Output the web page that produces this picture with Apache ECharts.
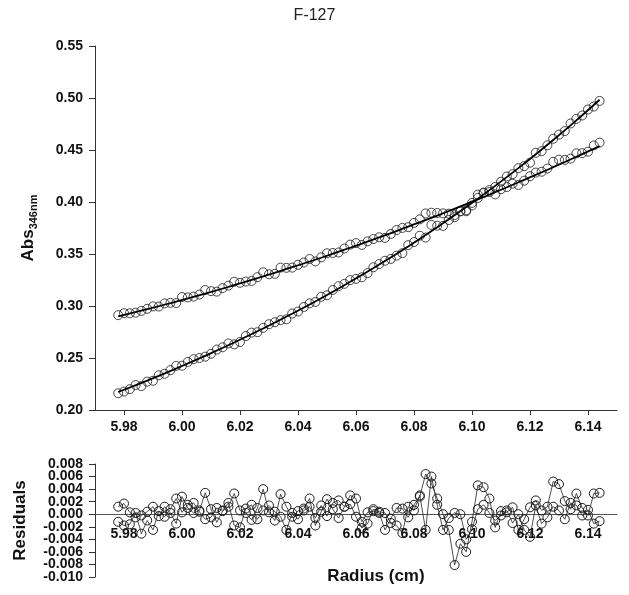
<!DOCTYPE html>
<html><head><meta charset="utf-8">
<script src="https://cdn.jsdelivr.net/npm/echarts@6/dist/echarts.min.js"></script>
<style>html,body{margin:0;padding:0;background:#fff}#c{width:629px;height:595px}</style>
</head><body><div id="c"></div>
<script>
// Radial positions (cm)
const radius = [5.978,5.980,5.982,5.984,5.986,5.988,5.990,5.992,5.994,5.996,
5.998,6.000,6.002,6.004,6.006,6.008,6.010,6.012,6.014,6.016,
6.018,6.020,6.022,6.024,6.026,6.028,6.030,6.032,6.034,6.036,
6.038,6.040,6.042,6.044,6.046,6.048,6.050,6.052,6.054,6.056,
6.058,6.060,6.062,6.064,6.066,6.068,6.070,6.072,6.074,6.076,
6.078,6.080,6.082,6.084,6.086,6.088,6.090,6.092,6.094,6.096,
6.098,6.100,6.102,6.104,6.106,6.108,6.110,6.112,6.114,6.116,
6.118,6.120,6.122,6.124,6.126,6.128,6.130,6.132,6.134,6.136,
6.138,6.140,6.142,6.144];
// Observed absorbance, scan 1 (flatter)
const absScan1 = [0.2912,0.2931,0.2930,0.2936,0.2953,0.2973,0.2996,0.2995,0.3025,0.3030,
0.3028,0.3086,0.3083,0.3090,0.3110,0.3153,0.3143,0.3138,0.3172,0.3196,
0.3233,0.3223,0.3235,0.3241,0.3277,0.3324,0.3305,0.3309,0.3369,0.3367,
0.3369,0.3396,0.3418,0.3452,0.3428,0.3468,0.3507,0.3510,0.3515,0.3553,
0.3590,0.3605,0.3587,0.3622,0.3644,0.3661,0.3655,0.3693,0.3731,0.3751,
0.3758,0.3799,0.3833,0.3890,0.3897,0.3894,0.3891,0.3888,0.3854,0.3911,
0.3920,0.3991,0.4071,0.4091,0.4096,0.4073,0.4123,0.4144,0.4176,0.4164,
0.4205,0.4248,0.4283,0.4291,0.4322,0.4386,0.4407,0.4405,0.4417,0.4468,
0.4470,0.4484,0.4544,0.4571];
// Observed absorbance, scan 2 (steeper)
const absScan2 = [0.2161,0.2177,0.2200,0.2240,0.2230,0.2273,0.2281,0.2334,0.2348,0.2383,
0.2424,0.2426,0.2462,0.2489,0.2500,0.2513,0.2541,0.2581,0.2603,0.2640,
0.2631,0.2654,0.2711,0.2744,0.2748,0.2790,0.2825,0.2844,0.2864,0.2872,
0.2928,0.2947,0.2991,0.3026,0.3039,0.3089,0.3103,0.3155,0.3191,0.3213,
0.3249,0.3261,0.3276,0.3316,0.3373,0.3403,0.3435,0.3453,0.3484,0.3508,
0.3585,0.3615,0.3676,0.3658,0.3780,0.3772,0.3770,0.3827,0.3874,0.3911,
0.3911,0.3967,0.4039,0.4087,0.4115,0.4145,0.4195,0.4245,0.4268,0.4326,
0.4345,0.4378,0.4473,0.4489,0.4545,0.4608,0.4648,0.4682,0.4755,0.4799,
0.4832,0.4890,0.4918,0.4972];
// Residuals
const resid1 = [0.0012,0.0017,0.0003,-0.0005,-0.0002,0.0004,0.0012,-0.0003,0.0012,0.0002,
-0.0015,0.0028,0.0010,0.0002,0.0006,0.0034,0.0008,-0.0013,0.0005,0.0012,
0.0033,0.0006,0.0002,-0.0009,0.0010,0.0040,0.0003,-0.0010,0.0032,0.0012,
-0.0004,0.0005,0.0009,0.0025,-0.0018,0.0004,0.0024,0.0008,-0.0006,0.0012,
0.0030,0.0025,-0.0012,0.0003,0.0005,0.0002,-0.0025,-0.0007,0.0010,0.0009,
-0.0005,0.0015,0.0028,0.0064,0.0049,0.0025,0.0000,-0.0025,-0.0081,-0.0047,
-0.0060,-0.0012,0.0046,0.0043,0.0025,-0.0021,0.0005,0.0003,0.0011,-0.0025,
-0.0008,0.0011,0.0022,0.0006,0.0012,0.0052,0.0048,0.0021,0.0008,0.0033,
0.0010,-0.0002,0.0033,0.0034];
const resid2 = [-0.0012,-0.0018,-0.0016,0.0002,-0.0031,-0.0010,-0.0025,0.0005,-0.0004,0.0008,
0.0025,0.0003,0.0015,0.0018,0.0004,-0.0008,-0.0005,0.0010,0.0006,0.0018,
-0.0018,-0.0021,0.0009,0.0015,-0.0008,0.0006,0.0014,0.0004,-0.0004,-0.0025,
0.0002,-0.0008,0.0006,0.0012,-0.0006,0.0014,-0.0003,0.0018,0.0022,0.0012,
0.0016,-0.0004,-0.0022,-0.0015,0.0008,0.0004,0.0002,-0.0014,-0.0018,-0.0030,
0.0012,0.0006,0.0030,-0.0025,0.0060,0.0015,-0.0025,-0.0006,0.0002,0.0000,
-0.0040,-0.0024,0.0008,0.0015,0.0002,-0.0010,-0.0002,0.0006,-0.0014,0.0000,
-0.0025,-0.0036,0.0014,-0.0015,-0.0005,0.0012,0.0006,-0.0008,0.0018,0.0014,
-0.0002,0.0007,-0.0015,-0.0011];
// Fitted curves
const fitRadius = [5.978,5.988,5.998,6.008,6.018,6.028,6.038,6.048,6.058,6.068,6.078,6.088,6.098,6.108,6.118,6.128,6.138,6.144];
const fit1 = [0.2900,0.2969,0.3043,0.3119,0.3200,0.3284,0.3373,0.3464,0.3560,0.3659,0.3763,0.3869,0.3980,0.4094,0.4213,0.4334,0.4460,0.4537];
const fit2 = [0.2173,0.2283,0.2399,0.2521,0.2649,0.2784,0.2926,0.3075,0.3233,0.3399,0.3573,0.3757,0.3951,0.4155,0.4370,0.4596,0.4834,0.4983];
// Tick values
const radiusTicks = [5.98,6.00,6.02,6.04,6.06,6.08,6.10,6.12,6.14];
const residTicks = [-0.010,-0.008,-0.006,-0.004,-0.002,0.000,0.002,0.004,0.006,0.008];
const residLabelsA = [-0.010,-0.006,-0.002,0.002,0.006];
const residLabelsB = [-0.008,-0.004,0.000,0.004,0.008];

const FONT = 'Liberation Sans, Arial, Helvetica, sans-serif';
const zip = (xs, ys) => xs.map((x, i) => [x, ys[i]]);
const tickFont = {fontFamily: FONT, fontSize: 14, fontWeight: 'bold', color: '#111'};
const axisCol = '#333';
const circleStyle = {color: 'rgba(0,0,0,0)', borderColor: '#1c1c1c', borderWidth: 1};
const fmt3 = v => (Math.abs(v) < 1e-9 ? 0 : v).toFixed(3);

const chart = echarts.init(document.getElementById('c'));
chart.setOption({
  animation: false,
  backgroundColor: '#fff',
  title: {text: 'F-127', left: 'center', top: 3,
    textStyle: {fontFamily: FONT, fontSize: 16, fontWeight: 'normal', color: '#222'}},
  grid: [
    {left: 95, top: 46, width: 522, height: 364, containLabel: false, outerBoundsMode: 'none'},
    {left: 95, top: 464, width: 522, height: 113, containLabel: false, outerBoundsMode: 'none'},
    // upper half of residual panel: its bottom edge is the zero line, carries the radius labels
    {left: 95, top: 464, width: 522, height: 50, containLabel: false, outerBoundsMode: 'none'}
  ],
  xAxis: [
    {gridIndex: 0, type: 'value', min: 5.97, max: 6.15,
     splitLine: {show: false},
     axisLine: {show: true, lineStyle: {color: axisCol, width: 1}},
     axisTick: {show: true, customValues: radiusTicks, length: 5, lineStyle: {color: axisCol}},
     axisLabel: Object.assign({customValues: radiusTicks, margin: 10, formatter: v => v.toFixed(2)}, tickFont)},
    {gridIndex: 1, type: 'value', min: 5.97, max: 6.15,
     splitLine: {show: false},
     axisLine: {show: true, onZero: true, lineStyle: {color: '#555', width: 1}},
     axisTick: {show: false},
     axisLabel: {show: false}},
    {gridIndex: 2, type: 'value', min: 5.97, max: 6.15,
     splitLine: {show: false},
     axisLine: {show: false},
     axisTick: {show: false},
     axisLabel: Object.assign({customValues: radiusTicks, margin: 13, formatter: v => v.toFixed(2)}, tickFont),
     name: 'Radius (cm)', nameLocation: 'middle', nameGap: 54,
     nameTextStyle: {fontFamily: FONT, fontSize: 17, fontWeight: 'bold', color: '#111', padding: [0, 0, 0, 40]}}
  ],
  yAxis: [
    {gridIndex: 0, type: 'value', min: 0.20, max: 0.55, interval: 0.05,
     splitLine: {show: false},
     axisLine: {show: true, lineStyle: {color: axisCol, width: 1}},
     axisTick: {show: true, length: 6, lineStyle: {color: axisCol}},
     axisLabel: Object.assign({margin: 12, formatter: v => v.toFixed(2)}, tickFont),
     name: '{a|Abs}{b|346nm}', nameLocation: 'middle', nameGap: 56,
     nameTextStyle: {fontFamily: FONT, fontWeight: 'bold', color: '#111',
       rich: {a: {fontFamily: FONT, fontSize: 17, fontWeight: 'bold', color: '#111', lineHeight: 22, verticalAlign: 'middle'},
              b: {fontFamily: FONT, fontSize: 11, fontWeight: 'bold', color: '#111', lineHeight: 12, verticalAlign: 'bottom'}}}},
    {gridIndex: 1, type: 'value', position: 'left', offset: 0, min: -0.010, max: 0.008,
     splitLine: {show: false},
     axisLine: {show: true, lineStyle: {color: axisCol, width: 1}},
     axisTick: {show: true, customValues: residTicks, length: 6, lineStyle: {color: axisCol}},
     axisLabel: Object.assign({margin: 12, customValues: residLabelsA, showMinLabel: true, showMaxLabel: true,
       formatter: fmt3}, tickFont),
     name: 'Residuals', nameLocation: 'middle', nameGap: 66,
     nameTextStyle: {fontFamily: FONT, fontSize: 17, fontWeight: 'bold', color: '#111'}},
    {gridIndex: 2, type: 'value', min: 0, max: 0.008, show: false},
    {gridIndex: 1, type: 'value', position: 'left', offset: 0, min: -0.010, max: 0.008,
     splitLine: {show: false},
     axisLine: {show: false},
     axisTick: {show: false},
     axisLabel: Object.assign({margin: 12, customValues: residLabelsB, showMinLabel: true, showMaxLabel: true,
       formatter: fmt3}, tickFont)}
  ],
  series: [
    {name: 'Scan 1', type: 'scatter', xAxisIndex: 0, yAxisIndex: 0, data: zip(radius, absScan1),
     symbol: 'circle', symbolSize: 9, itemStyle: circleStyle, z: 2},
    {name: 'Scan 2', type: 'scatter', xAxisIndex: 0, yAxisIndex: 0, data: zip(radius, absScan2),
     symbol: 'circle', symbolSize: 9, itemStyle: circleStyle, z: 2},
    {name: 'Fit 1', type: 'line', xAxisIndex: 0, yAxisIndex: 0, data: zip(fitRadius, fit1),
     smooth: true, showSymbol: false, lineStyle: {color: '#000', width: 1.8}, z: 3},
    {name: 'Fit 2', type: 'line', xAxisIndex: 0, yAxisIndex: 0, data: zip(fitRadius, fit2),
     smooth: true, showSymbol: false, lineStyle: {color: '#000', width: 1.8}, z: 3},
    {name: 'Residuals 1', type: 'line', xAxisIndex: 1, yAxisIndex: 1, data: zip(radius, resid1),
     symbol: 'circle', symbolSize: 9, showSymbol: true, itemStyle: circleStyle,
     lineStyle: {color: '#222', width: 0.8}, z: 2},
    {name: 'Residuals 2', type: 'line', xAxisIndex: 1, yAxisIndex: 1, data: zip(radius, resid2),
     symbol: 'circle', symbolSize: 9, showSymbol: true, itemStyle: circleStyle,
     lineStyle: {color: '#222', width: 0.8}, z: 2}
  ]
});
</script>
</body></html>
